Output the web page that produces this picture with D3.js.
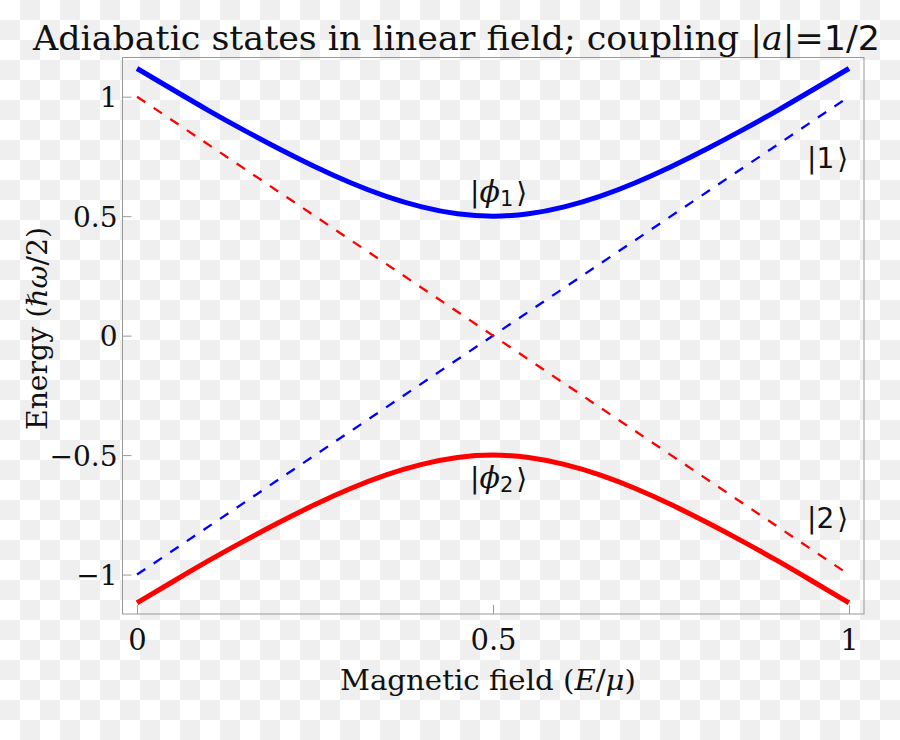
<!DOCTYPE html>
<html>
<head>
<meta charset="utf-8">
<script src="https://cdn.jsdelivr.net/npm/d3@7/dist/d3.min.js"></script>
<style>
  html, body { margin: 0; padding: 0; background: #fff; }
  svg { display: block; }
</style>
</head>
<body>
<svg id="chart" width="900" height="740"></svg>
<script>
// ---- data ----
const fieldValues = [0, 0.05, 0.1, 0.15, 0.2, 0.25, 0.3, 0.35, 0.4, 0.45, 0.5,
                     0.55, 0.6, 0.65, 0.7, 0.75, 0.8, 0.85, 0.9, 0.95, 1];
const upperEnergy = [1.118, 1.030, 0.943, 0.860, 0.781, 0.707, 0.640, 0.583, 0.539, 0.510, 0.500,
                     0.510, 0.539, 0.583, 0.640, 0.707, 0.781, 0.860, 0.943, 1.030, 1.118];
const lowerEnergy = [-1.118, -1.030, -0.943, -0.860, -0.781, -0.707, -0.640, -0.583, -0.539, -0.510, -0.500,
                     -0.510, -0.539, -0.583, -0.640, -0.707, -0.781, -0.860, -0.943, -1.030, -1.118];
const diabaticField = [0, 1];
const state1Energy = [-1, 1];
const state2Energy = [1, -1];
const xTicks = [0, 0.5, 1];
const xTickLabels = ["0", "0.5", "1"];
const yTicks = [-1, -0.5, 0, 0.5, 1];
const yTickLabels = ["\u22121", "\u22120.5", "0", "0.5", "1"];

(function () {
// ---- layout ----
const svg = d3.select("#chart");
const pLeft = 122, pRight = 864, pTop = 57.5, pBottom = 614;

// checkerboard background
const defs = svg.append("defs");
const pat = defs.append("pattern").attr("id", "checker")
  .attr("width", 40).attr("height", 40).attr("patternUnits", "userSpaceOnUse");
pat.append("rect").attr("width", 40).attr("height", 40).attr("fill", "#ffffff");
pat.append("rect").attr("x", 20).attr("y", 0).attr("width", 20).attr("height", 20).attr("fill", "#efefef");
pat.append("rect").attr("x", 0).attr("y", 20).attr("width", 20).attr("height", 20).attr("fill", "#efefef");
svg.append("rect").attr("width", 900).attr("height", 740).attr("fill", "url(#checker)");

const x = d3.scaleLinear().domain([-0.0211, 1.0211]).range([pLeft, pRight]);
const y = d3.scaleLinear().domain([-1.165, 1.164]).range([pBottom, pTop]);

// frame
svg.append("rect").attr("x", pLeft + 0.5).attr("y", pTop).attr("width", pRight - pLeft - 0.5)
  .attr("height", pBottom - pTop).attr("fill", "none").attr("stroke", "#999").attr("stroke-width", 1);

const serif = "'DejaVu Serif', serif";
const sans = "'DejaVu Sans', sans-serif";

// y axis ticks
const yAxis = d3.axisLeft(y).tickValues(yTicks).tickSize(-9).tickPadding(14)
  .tickFormat((d, i) => yTickLabels[i]);
const gy = svg.append("g").attr("transform", `translate(${pLeft + 0.5},0)`).call(yAxis);
gy.select(".domain").remove();
gy.selectAll(".tick line").attr("stroke", "#999");
gy.selectAll(".tick text").attr("font-family", serif).attr("font-size", 28).attr("fill", "#111")
  .attr("x", -5).attr("dy", "0.36em");

// x axis ticks
const xAxis = d3.axisBottom(x).tickValues(xTicks).tickSize(-9).tickPadding(14)
  .tickFormat((d, i) => xTickLabels[i]);
const gx = svg.append("g").attr("transform", `translate(0,${pBottom})`).call(xAxis);
gx.select(".domain").remove();
gx.selectAll(".tick line").attr("stroke", "#999");
gx.selectAll(".tick text").attr("font-family", serif).attr("font-size", 29).attr("fill", "#111")
  .attr("y", 36).attr("dy", 0);

// lines
const line = d3.line().x(d => x(d[0])).y(d => y(d[1]));
const curve = d3.line().x(d => x(d[0])).y(d => y(d[1])).curve(d3.curveNatural);

svg.append("path").datum(diabaticField.map((f, i) => [f, state1Energy[i]]))
  .attr("d", line).attr("fill", "none").attr("stroke", "#0000ff")
  .attr("stroke-width", 2.3).attr("stroke-dasharray", "10,10");
svg.append("path").datum(diabaticField.map((f, i) => [f, state2Energy[i]]))
  .attr("d", line).attr("fill", "none").attr("stroke", "#ff0000")
  .attr("stroke-width", 2.3).attr("stroke-dasharray", "10,10");

svg.append("path").datum(fieldValues.map((f, i) => [f, upperEnergy[i]]))
  .attr("d", curve).attr("fill", "none").attr("stroke", "#0000ff").attr("stroke-width", 5);
svg.append("path").datum(fieldValues.map((f, i) => [f, lowerEnergy[i]]))
  .attr("d", curve).attr("fill", "none").attr("stroke", "#ff0000").attr("stroke-width", 5);

// state labels
function ket(px, py, main, sub, italic) {
  const t = svg.append("text").attr("x", px).attr("y", py)
    .attr("font-family", sans).attr("font-size", 28).attr("fill", "#111");
  t.append("tspan").text("|");
  t.append("tspan").attr("font-style", italic ? "italic" : "normal").attr("font-family", italic ? serif : sans)
    .attr("font-size", italic ? 30 : 28).text(main);
  if (sub) t.append("tspan").attr("font-size", 21).attr("dy", 4).text(sub);
  t.append("tspan").attr("dy", sub ? -4 : 0).attr("dx", 3).text("\u27E9");
  return t;
}
ket(470, 202, "\u03D5", "1", true);
ket(470, 488, "\u03D5", "2", true);
ket(807, 168, "1", null, false);
ket(807, 528, "2", null, false);

// title
const title = svg.append("text").attr("x", 33).attr("y", 50)
  .attr("font-family", serif).attr("font-size", 34).attr("fill", "#111");
title.append("tspan").text("Adiabatic states in linear field; coupling |");
title.append("tspan").attr("font-style", "italic").text("a");
title.append("tspan").text("|");
title.append("tspan").attr("font-family", sans).text("=1/2");
title.attr("textLength", 847).attr("lengthAdjust", "spacingAndGlyphs");

// x label
const xl = svg.append("text").attr("x", 340).attr("y", 690)
  .attr("font-family", serif).attr("font-size", 28).attr("fill", "#111");
xl.append("tspan").text("Magnetic field (");
xl.append("tspan").attr("font-style", "italic").text("E");
xl.append("tspan").text("/");
xl.append("tspan").attr("font-style", "italic").text("\u03BC");
xl.append("tspan").text(")");
xl.attr("textLength", 296).attr("lengthAdjust", "spacingAndGlyphs");

// y label
const yl = svg.append("text").attr("transform", "translate(47,430) rotate(-90)")
  .attr("font-family", serif).attr("font-size", 28).attr("fill", "#111");
yl.append("tspan").text("Energy (");
yl.append("tspan").attr("font-style", "italic").text("\u210F\u03C9");
yl.append("tspan").text("/2)");
yl.attr("textLength", 203).attr("lengthAdjust", "spacingAndGlyphs");
})();
</script>
</body>
</html>
